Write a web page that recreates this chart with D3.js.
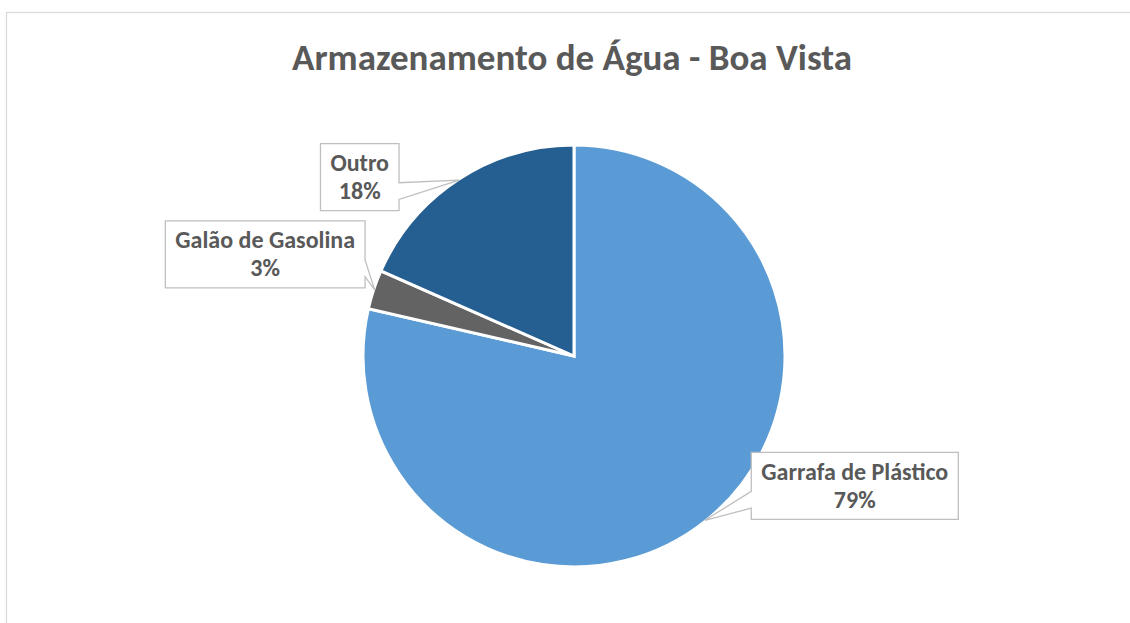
<!DOCTYPE html>
<html>
<head>
<meta charset="utf-8">
<script src="https://cdn.jsdelivr.net/npm/d3@7"></script>
<style>
  body { margin: 0; background: #fff; }
  text { font-family: Carlito, Calibri, Lato, sans-serif; font-weight: bold; fill: #595959; }
</style>
</head>
<body>
<div id="chart"></div>
<script>
// dados
const categories = ['Garrafa de Plástico', 'Galão de Gasolina', 'Outro'];
const values = [78.6, 3.0, 18.4];
const colors = ['#5B9BD5', '#636363', '#255E91'];
const titleText = 'Armazenamento de Água - Boa Vista';

// posição das caixas de rótulo em relação à ponta do balão
const boxOffsets = [[150, -34.5], [-109.5, -35.5], [-99.5, -3]];

const svgwidth = 1130;
const svgheight = 623;
const cx = 574;
const cy = 356;
const radius = 211;

const svg = d3.select('#chart').append('svg')
  .attr('width', svgwidth)
  .attr('height', svgheight);

// moldura do gráfico
svg.append('rect')
  .attr('x', 6.5).attr('y', 12.5)
  .attr('width', 1140).attr('height', 700)
  .attr('fill', '#fff')
  .attr('stroke', '#D9D9D9')
  .attr('stroke-width', 1.2);

// tamanho de fonte ajustado à largura medida no original
function fitSize(str, target) {
  const probe = svg.append('text').style('font-size', '20px').text(str);
  const w = probe.node().getComputedTextLength();
  probe.remove();
  return 20 * target / w;
}

const titleSize = fitSize(titleText, 560);
svg.append('text')
  .attr('x', 572).attr('y', 70)
  .attr('text-anchor', 'middle')
  .style('font-size', `${titleSize}px`)
  .text(titleText);

const labelSize = fitSize(categories[0], 187);

const total = d3.sum(values);
const fmt = d3.format('.0%');
const data = categories.map((c, i) => ({ name: c, value: values[i], color: colors[i], off: boxOffsets[i] }));

const pie = d3.pie().sort(null).value(d => d.value);
const arc = d3.arc().innerRadius(0).outerRadius(radius);
const arcs = pie(data);

const g = svg.append('g').attr('transform', `translate(${cx},${cy})`);
g.selectAll('path.slice')
  .data(arcs)
  .enter()
  .append('path')
  .attr('class', 'slice')
  .attr('d', arc)
  .attr('fill', d => d.data.color)
  .attr('stroke', '#fff')
  .attr('stroke-width', 3)
  .attr('stroke-linejoin', 'miter');

function callout(bx, by, w, h, tx, ty) {
  const ccx = bx + w / 2;
  const ccy = by + h / 2;
  const dx = tx - ccx;
  const dy = ty - ccy;
  const p = d3.path();
  p.moveTo(bx, by);
  if (Math.abs(dx) / w > Math.abs(dy) / h) {
    const a = dy > 0 ? [7 / 12, 10 / 12] : [2 / 12, 5 / 12];
    if (dx > 0) {
      p.lineTo(bx + w, by);
      p.lineTo(bx + w, by + h * a[0]);
      p.lineTo(tx, ty);
      p.lineTo(bx + w, by + h * a[1]);
      p.lineTo(bx + w, by + h);
      p.lineTo(bx, by + h);
    } else {
      p.lineTo(bx + w, by);
      p.lineTo(bx + w, by + h);
      p.lineTo(bx, by + h);
      p.lineTo(bx, by + h * a[1]);
      p.lineTo(tx, ty);
      p.lineTo(bx, by + h * a[0]);
    }
  } else {
    const a = dx > 0 ? [7 / 12, 10 / 12] : [2 / 12, 5 / 12];
    if (dy > 0) {
      p.lineTo(bx + w, by);
      p.lineTo(bx + w, by + h);
      p.lineTo(bx + w * a[1], by + h);
      p.lineTo(tx, ty);
      p.lineTo(bx + w * a[0], by + h);
      p.lineTo(bx, by + h);
    } else {
      p.lineTo(bx + w * a[0], by);
      p.lineTo(tx, ty);
      p.lineTo(bx + w * a[1], by);
      p.lineTo(bx + w, by);
      p.lineTo(bx + w, by + h);
      p.lineTo(bx, by + h);
    }
  }
  p.closePath();
  return p.toString();
}

const boxH = 67;

arcs.forEach((d) => {
  // ponta do balão no meio do arco externo
  const mid = (d.startAngle + d.endAngle) / 2;
  const tx = cx + Math.sin(mid) * (radius - 1);
  const ty = cy - Math.cos(mid) * (radius - 1);
  const bcx = tx + d.data.off[0];
  const bcy = ty + d.data.off[1];

  const lg = svg.append('g');
  const path = lg.append('path')
    .attr('fill', '#fff')
    .attr('stroke', '#BFBFBF')
    .attr('stroke-width', 1.3);

  const t1 = lg.append('text')
    .attr('x', bcx).attr('y', bcy - 6)
    .attr('text-anchor', 'middle')
    .style('font-size', `${labelSize}px`)
    .text(d.data.name);
  const w1 = t1.node().getComputedTextLength();

  const t2 = lg.append('text')
    .attr('x', bcx).attr('y', bcy + 22)
    .attr('text-anchor', 'middle')
    .style('font-size', `${labelSize}px`)
    .text(fmt(d.data.value / total));
  const w2 = t2.node().getComputedTextLength();

  const boxW = Math.max(w1, w2) + 20;
  path.attr('d', callout(bcx - boxW / 2, bcy - boxH / 2, boxW, boxH, tx, ty));
});
</script>
</body>
</html>
